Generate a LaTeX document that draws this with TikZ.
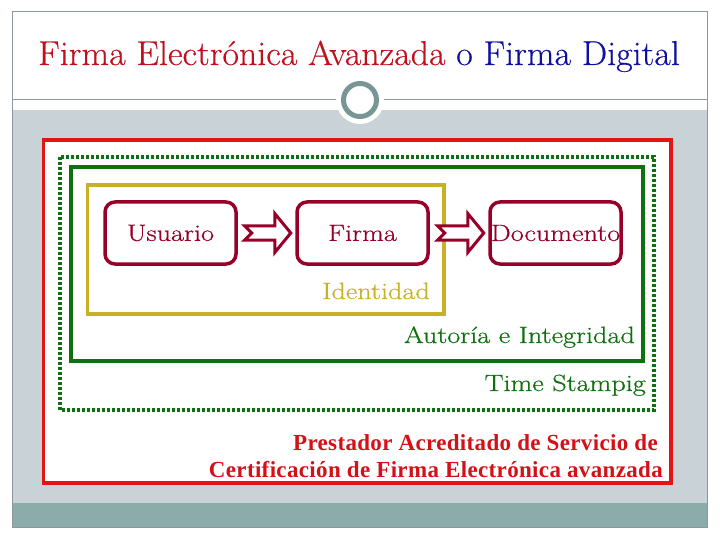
\documentclass[tikz,border=0pt]{standalone}
\usepackage{fontspec}
\usetikzlibrary{calc}
\newfontfamily\bodyf{Latin Modern Roman}[FakeStretch=1.2,FakeBold=0.6]
\newfontfamily\titlef{Latin Modern Roman}[FakeStretch=1.04,FakeBold=0.4]
\newfontfamily\timesf{Liberation Serif}[LetterSpace=1.5]
\definecolor{titlered}{RGB}{192,16,30}
\definecolor{titleblue}{RGB}{16,16,160}
\definecolor{framegray}{RGB}{140,150,155}
\definecolor{bggray}{RGB}{200,210,215}
\definecolor{bandteal}{RGB}{140,172,172}
\definecolor{ringcol}{RGB}{120,150,150}
\definecolor{redc}{RGB}{228,20,20}
\definecolor{redtext}{RGB}{212,16,24}
\definecolor{greenc}{RGB}{16,112,16}
\definecolor{yellowc}{RGB}{200,176,40}
\definecolor{darkred}{RGB}{150,0,40}
\tikzset{
  procbox/.style={draw=darkred, line width=3.5pt, rounded corners=10pt, fill=white,
    minimum width=131pt, minimum height=62pt, inner sep=0pt, text=darkred,
    font=\bodyf\fontsize{23.5}{26}\selectfont},
  lbl/.style={inner sep=0pt, font=\bodyf\fontsize{23.5}{26}\selectfont},
  redlbl/.style={inner sep=0pt, text=redtext, font=\timesf\bfseries\fontsize{23}{26}\selectfont},
  notcharrow/.pic={\draw[darkred, line width=3pt, fill=white, line join=miter]
    (0,-7)--(30,-7)--(30,-19.5)--(46,0)--(30,19.5)--(30,7)--(0,7)--(7,0)--cycle;}
}
\begin{document}
\begin{tikzpicture}[x=1pt,y=-1pt]
\useasboundingbox (0,0) rectangle (720,540);
\fill[white] (0,0) rectangle (720,540);
\fill[bggray] (12,110) rectangle (707,503);
\fill[bandteal] (12,503) rectangle (707,527);
\draw[framegray, line width=1pt] (12,12) rectangle (707,527);
\draw[framegray, line width=1pt] (12,100) -- (707,100);
\fill[white] (360,100) circle (24);
\draw[ringcol, line width=5pt] (360,100) circle (16.5);
\node[anchor=base, inner sep=0pt, font=\titlef\fontsize{34.5}{38}\selectfont] (title) at (359,65)
  {\textcolor{titlered}{Firma Electrónica Avanzada} \textcolor{titleblue}{o Firma Digital}};
% frames
\draw[redc, line width=3.5pt, fill=white] (43.5,140) rectangle (671,483);
\draw[greenc, line width=4pt, dash pattern=on 3pt off 2pt] (60,157) rectangle (654,410);
\draw[greenc, line width=4pt] (71,167) rectangle (643,361);
\draw[yellowc, line width=3.5pt] (87.5,185) rectangle (444,314);
% boxes
\node[procbox] (u) at (170.5,233) {Usuario};
\node[procbox] (f) at (362.5,233) {Firma};
\node[procbox] (d) at (555.5,233) {Documento};
\pic at ($(u.east)+(7,0)$) {notcharrow};
\pic at ($(f.east)+(8,0)$) {notcharrow};
% labels
\node[lbl, text=yellowc, anchor=base east] (idl) at (430,299) {Identidad};
\node[lbl, text=greenc, anchor=base east] (aut) at (635,343) {Autoría e Integridad};
\node[lbl, text=greenc, anchor=base east] (ts) at (646,391) {Time Stampig};
\node[redlbl, anchor=base east] (p1) at (658,450) {Prestador Acreditado de Servicio de};
\node[redlbl, anchor=base east] (p2) at (663,477) {Certificación de Firma Electrónica avanzada};
\end{tikzpicture}
\end{document}
